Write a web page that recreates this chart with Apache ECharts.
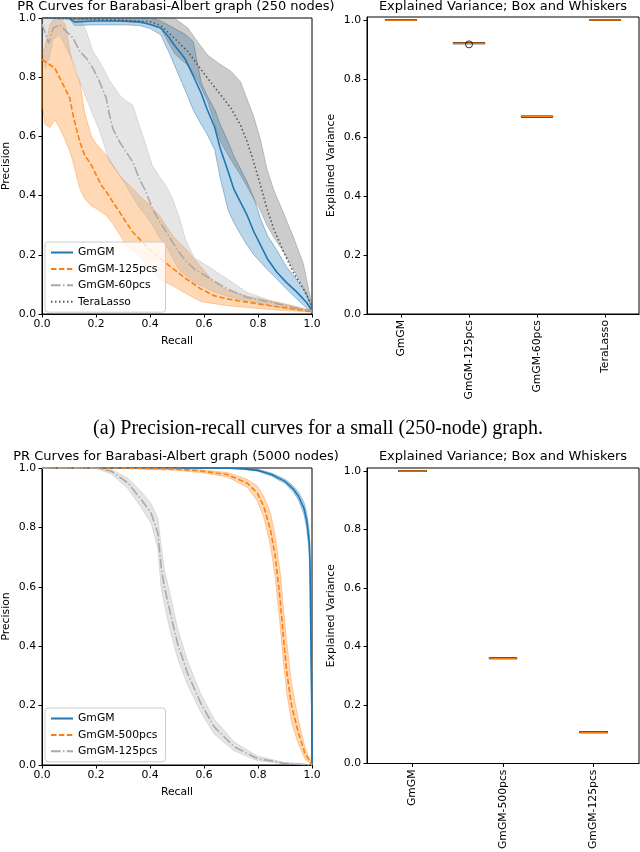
<!DOCTYPE html>
<html>
<head>
<meta charset="utf-8">
<script src="https://cdn.jsdelivr.net/npm/echarts@6/dist/echarts.min.js"></script>
<style>
html,body{margin:0;padding:0;background:#fff}
#chart{width:640px;height:852px}
</style>
</head>
<body>
<div id="chart"></div>
<script>
// ---- top left: PR curves, 250 nodes ----
var smGmgmRecall = [0, 0.10, 0.12, 0.2, 0.3, 0.36, 0.40, 0.44, 0.47, 0.49, 0.53, 0.56, 0.59, 0.61, 0.64, 0.66, 0.69, 0.71, 0.735, 0.76, 0.785, 0.81, 0.835, 0.87, 0.905, 0.945, 0.98, 1.0];
var smGmgmPrec   = [1.0, 1.0, 0.987, 0.99, 0.99, 0.987, 0.978, 0.966, 0.935, 0.909, 0.862, 0.805, 0.745, 0.695, 0.63, 0.56, 0.48, 0.423, 0.378, 0.333, 0.277, 0.232, 0.186, 0.141, 0.107, 0.073, 0.039, 0.011];
var smGmgmHigh   = [1, 1, 1, 1, 1, 1, 1, 0.99, 0.975, 0.965, 0.945, 0.92, 0.78, 0.74, 0.69, 0.64, 0.58, 0.535, 0.49, 0.445, 0.39, 0.32, 0.265, 0.215, 0.16, 0.115, 0.07, 0.017];
var smGmgmLow    = [1, 1, 0.975, 0.977, 0.977, 0.975, 0.965, 0.943, 0.885, 0.842, 0.757, 0.69, 0.64, 0.61, 0.555, 0.46, 0.35, 0.31, 0.27, 0.232, 0.2, 0.175, 0.15, 0.118, 0.085, 0.05, 0.02, 0.006];

var sm125Recall = [0, 0.011, 0.029, 0.048, 0.066, 0.085, 0.103, 0.115, 0.127, 0.14, 0.158, 0.183, 0.201, 0.22, 0.238, 0.262, 0.287, 0.311, 0.336, 0.36, 0.397, 0.434, 0.483, 0.532, 0.588, 0.637, 0.686, 0.76, 0.845, 0.931, 1.0];
var sm125Prec   = [0.86, 0.853, 0.842, 0.83, 0.797, 0.763, 0.729, 0.672, 0.627, 0.582, 0.537, 0.503, 0.469, 0.435, 0.413, 0.379, 0.345, 0.311, 0.277, 0.254, 0.22, 0.19, 0.155, 0.12, 0.085, 0.062, 0.051, 0.04, 0.028, 0.017, 0.008];
var sm125High   = [0.88, 0.9, 0.977, 1.0, 1.0, 0.98, 0.89, 0.842, 0.81, 0.785, 0.68, 0.6, 0.575, 0.555, 0.537, 0.505, 0.469, 0.445, 0.424, 0.4, 0.37, 0.333, 0.265, 0.22, 0.16, 0.107, 0.08, 0.06, 0.045, 0.028, 0.011];
var sm125Low    = [0.71, 0.64, 0.63, 0.655, 0.627, 0.59, 0.55, 0.514, 0.47, 0.424, 0.39, 0.365, 0.356, 0.345, 0.333, 0.305, 0.27, 0.232, 0.215, 0.198, 0.152, 0.118, 0.096, 0.07, 0.042, 0.035, 0.028, 0.022, 0.015, 0.01, 0.006];

var sm60Recall = [0, 0.012, 0.025, 0.042, 0.066, 0.09, 0.115, 0.14, 0.164, 0.189, 0.213, 0.238, 0.25, 0.262, 0.287, 0.311, 0.336, 0.36, 0.385, 0.409, 0.434, 0.458, 0.483, 0.507, 0.532, 0.564, 0.625, 0.686, 0.76, 0.845, 0.931, 1.0];
var sm60Prec   = [0.98, 0.949, 0.915, 0.966, 0.977, 0.955, 0.932, 0.887, 0.864, 0.83, 0.785, 0.729, 0.672, 0.627, 0.582, 0.548, 0.514, 0.458, 0.413, 0.356, 0.315, 0.28, 0.243, 0.209, 0.18, 0.152, 0.118, 0.085, 0.056, 0.04, 0.022, 0.011];
var sm60High   = [1, 1, 1, 1, 1, 1, 1, 1, 0.955, 0.887, 0.853, 0.81, 0.79, 0.774, 0.74, 0.72, 0.706, 0.638, 0.57, 0.5, 0.465, 0.435, 0.39, 0.33, 0.25, 0.19, 0.155, 0.118, 0.073, 0.045, 0.025, 0.011];
var sm60Low    = [0.9, 0.83, 0.86, 0.93, 0.943, 0.898, 0.853, 0.785, 0.729, 0.672, 0.62, 0.55, 0.514, 0.5, 0.47, 0.435, 0.395, 0.36, 0.333, 0.3, 0.26, 0.235, 0.19, 0.15, 0.13, 0.107, 0.08, 0.06, 0.045, 0.028, 0.015, 0.008];

var smTeraRecall = [0, 0.25, 0.35, 0.40, 0.44, 0.49, 0.54, 0.576, 0.613, 0.662, 0.70, 0.735, 0.76, 0.784, 0.809, 0.833, 0.858, 0.895, 0.931, 0.968, 1.0];
var smTeraPrec   = [1.0, 0.995, 0.99, 0.988, 0.975, 0.932, 0.887, 0.842, 0.797, 0.74, 0.695, 0.638, 0.582, 0.514, 0.435, 0.356, 0.288, 0.209, 0.141, 0.085, 0.028];
var smTeraHigh   = [1, 1, 1, 1, 1, 1, 0.966, 0.92, 0.875, 0.842, 0.82, 0.785, 0.725, 0.667, 0.59, 0.49, 0.42, 0.34, 0.26, 0.17, 0.028];
var smTeraLow    = [1, 0.99, 0.985, 0.98, 0.965, 0.88, 0.84, 0.79, 0.72, 0.58, 0.52, 0.47, 0.43, 0.39, 0.35, 0.30, 0.26, 0.21, 0.15, 0.09, 0.017];

// ---- bottom left: PR curves, 5000 nodes ----
var lgGmgmRecall = [0, 0.6, 0.7, 0.75, 0.8, 0.85, 0.9, 0.93, 0.95, 0.97, 0.98, 0.99, 0.993, 0.996, 0.999, 1.0];
var lgGmgmPrec   = [1, 1, 0.999, 0.997, 0.992, 0.978, 0.955, 0.93, 0.905, 0.865, 0.825, 0.75, 0.65, 0.42, 0.2, 0.0];
var lgGmgmHigh   = [1, 1, 1, 0.999, 0.995, 0.983, 0.962, 0.94, 0.918, 0.885, 0.85, 0.79, 0.71, 0.5, 0.25, 0.0];
var lgGmgmLow    = [1, 1, 0.998, 0.995, 0.989, 0.973, 0.948, 0.92, 0.892, 0.845, 0.8, 0.71, 0.59, 0.34, 0.15, 0.0];

var lg500Recall = [0, 0.3, 0.4, 0.5, 0.588, 0.686, 0.76, 0.797, 0.821, 0.846, 0.864, 0.882, 0.895, 0.907, 0.925, 0.95, 0.974, 1.0];
var lg500Prec   = [1, 1, 0.998, 0.996, 0.99, 0.978, 0.949, 0.916, 0.871, 0.792, 0.702, 0.556, 0.421, 0.309, 0.197, 0.107, 0.039, 0.0];
var lg500High   = [1, 1, 1, 0.999, 0.994, 0.985, 0.962, 0.94, 0.905, 0.85, 0.77, 0.65, 0.52, 0.41, 0.27, 0.15, 0.06, 0.002];
var lg500Low    = [1, 0.999, 0.995, 0.992, 0.985, 0.97, 0.935, 0.89, 0.835, 0.74, 0.63, 0.47, 0.34, 0.24, 0.14, 0.07, 0.02, 0.0];

var lg125Recall = [0, 0.2, 0.257, 0.319, 0.368, 0.404, 0.429, 0.441, 0.453, 0.478, 0.502, 0.539, 0.588, 0.637, 0.711, 0.797, 0.895, 1.0];
var lg125Prec   = [1, 1, 0.989, 0.949, 0.893, 0.848, 0.781, 0.669, 0.601, 0.5, 0.41, 0.309, 0.208, 0.129, 0.062, 0.022, 0.006, 0];
var lg125High   = [1, 1, 0.995, 0.965, 0.92, 0.88, 0.83, 0.74, 0.66, 0.56, 0.46, 0.35, 0.24, 0.155, 0.078, 0.03, 0.009, 0.001];
var lg125Low    = [1, 0.999, 0.98, 0.93, 0.865, 0.815, 0.73, 0.6, 0.54, 0.44, 0.36, 0.27, 0.178, 0.105, 0.048, 0.015, 0.004, 0];

// ---- box plots: [min, q1, median, q3, max] ----
var smBoxCats = ['GmGM', 'GmGM-125pcs', 'GmGM-60pcs', 'TeraLasso'];
var smBoxes = [
  [0.9985, 0.999, 0.9993, 0.9996, 1.0],
  [0.919, 0.920, 0.921, 0.922, 0.923],
  [0.669, 0.670, 0.671, 0.672, 0.673],
  [0.999, 0.9995, 0.9998, 1.0, 1.0]
];
var smOutliers = [['GmGM-125pcs', 0.917]];

var lgBoxCats = ['GmGM', 'GmGM-500pcs', 'GmGM-125pcs'];
var lgBoxes = [
  [0.998, 0.999, 0.9995, 1.0, 1.0],
  [0.358, 0.359, 0.360, 0.361, 0.362],
  [0.105, 0.106, 0.107, 0.108, 0.109]
];

var prTicks = [0, 0.2, 0.4, 0.6, 0.8, 1.0];
var evTicks = [0, 0.2, 0.4, 0.6, 0.8, 1.0];

var FONT = 'DejaVu Sans';
var BLUE = '#1f77b4', ORANGE = '#ff7f0e', LGRAY = '#a9a9a9', DGRAY = '#555555';

function zip(xs, ys) {
  var out = [];
  for (var i = 0; i < xs.length; i++) out.push([xs[i], ys[i]]);
  return out;
}

function lineSeries(name, xs, ys, color, dash, gi) {
  return {
    name: name, type: 'line', xAxisIndex: gi, yAxisIndex: gi,
    data: zip(xs, ys), symbol: 'none', showSymbol: false, z: 3,
    lineStyle: {color: color, width: 1.6, type: dash},
    itemStyle: {color: color}
  };
}

// shaded band: polygon along the upper edge, back along the lower edge
function bandSeries(xs, lo, hi, fill, edge, gi) {
  return {
    type: 'custom', xAxisIndex: gi, yAxisIndex: gi, z: 1, silent: true,
    data: [[0, 0]],
    renderItem: function (params, api) {
      var pts = [];
      for (var i = 0; i < xs.length; i++) pts.push(api.coord([xs[i], hi[i]]));
      for (var j = xs.length - 1; j >= 0; j--) pts.push(api.coord([xs[j], lo[j]]));
      return {type: 'polygon', shape: {points: pts}, style: {fill: fill, stroke: edge, lineWidth: 1}};
    }
  };
}

function medianSeries(cats, boxes, w, gi) {
  var d = [];
  for (var i = 0; i < boxes.length; i++) d.push([i, boxes[i][2]]);
  return {
    type: 'custom', xAxisIndex: gi, yAxisIndex: gi, z: 4, silent: true,
    data: d,
    renderItem: function (params, api) {
      var c = api.coord([api.value(0), api.value(1)]);
      return {type: 'line', shape: {x1: c[0] - w / 2, y1: c[1], x2: c[0] + w / 2, y2: c[1]},
        style: {stroke: ORANGE, lineWidth: 1.5}};
    }
  };
}

var txt = {color: '#000', fontFamily: FONT, fontSize: 10.8};

function prX(gi) {
  return {
    type: 'value', gridIndex: gi, min: 0, max: 1,
    name: 'Recall', nameLocation: 'middle', nameGap: 22, nameTextStyle: txt,
    axisLine: {show: true, lineStyle: {color: '#000', width: 1}},
    axisTick: {show: true, length: 3.5, lineStyle: {color: '#000'}, customValues: prTicks},
    axisLabel: Object.assign({margin: 5, customValues: prTicks, formatter: function (v) { return v.toFixed(1); }}, txt),
    splitLine: {show: false}
  };
}
function prY(gi) {
  return {
    type: 'value', gridIndex: gi, min: 0, max: 1,
    name: 'Precision', nameLocation: 'middle', nameGap: 30, nameTextStyle: txt,
    axisLine: {show: true, lineStyle: {color: '#000', width: 1}},
    axisTick: {show: true, length: 3.5, lineStyle: {color: '#000'}, customValues: prTicks},
    axisLabel: Object.assign({margin: 6, customValues: prTicks, formatter: function (v) { return v.toFixed(1); }}, txt),
    splitLine: {show: false}
  };
}
function evX(gi, cats) {
  return {
    type: 'category', gridIndex: gi, data: cats, boundaryGap: true,
    axisLine: {show: true, lineStyle: {color: '#000', width: 1}},
    axisTick: {show: true, alignWithLabel: true, length: 3.5, lineStyle: {color: '#000'}},
    axisLabel: Object.assign({rotate: 90, interval: 0, margin: 6}, txt),
    splitLine: {show: false}
  };
}
function evY(gi) {
  return {
    type: 'value', gridIndex: gi, min: 0, max: 1.01,
    name: 'Explained Variance', nameLocation: 'middle', nameGap: 30, nameTextStyle: txt,
    axisLine: {show: true, lineStyle: {color: '#000', width: 1}},
    axisTick: {show: true, length: 3.5, lineStyle: {color: '#000'}, customValues: evTicks},
    axisLabel: Object.assign({margin: 6, customValues: evTicks, formatter: function (v) { return v.toFixed(1); }}, txt),
    splitLine: {show: false}
  };
}

function titleAt(text, x, y) {
  return {text: text, left: x, top: y, textAlign: 'center', padding: 0,
    textStyle: {color: '#000', fontFamily: FONT, fontSize: 13, fontWeight: 'normal'}};
}

function legendAt(names, top) {
  return {
    data: names, orient: 'vertical', left: 45, top: top,
    itemWidth: 22, itemHeight: 10, itemGap: 5.4,
    padding: [5, 8, 5, 5],
    backgroundColor: 'rgba(255,255,255,0.8)', borderColor: '#cccccc', borderWidth: 1, borderRadius: 3,
    selectedMode: false,
    itemStyle: {opacity: 0},
    textStyle: txt,
    formatter: function (n) { return n.replace(/^b:/, ''); }
  };
}

var gridBox = {show: true, borderColor: '#000', borderWidth: 1, backgroundColor: 'transparent'};

var option = {
  animation: false,
  backgroundColor: '#fff',
  title: [
    titleAt('PR Curves for Barabasi-Albert graph (250 nodes)', 176, 0),
    titleAt('Explained Variance; Box and Whiskers', 503, 0),
    titleAt('PR Curves for Barabasi-Albert graph (5000 nodes)', 176, 450),
    titleAt('Explained Variance; Box and Whiskers', 503, 450),
    {text: '(a) Precision-recall curves for a small (250-node) graph.', left: 318, top: 419, textAlign: 'center', padding: 0,
      textStyle: {color: '#000', fontFamily: 'Liberation Serif', fontSize: 20, fontWeight: 'normal'}}
  ],
  legend: [
    legendAt(['GmGM', 'GmGM-125pcs', 'GmGM-60pcs', 'TeraLasso'], 242),
    legendAt(['b:GmGM', 'b:GmGM-500pcs', 'b:GmGM-125pcs'], 708)
  ],
  grid: [
    Object.assign({left: 40, top: 18, width: 272, height: 296}, gridBox),
    Object.assign({left: 367, top: 17, width: 272, height: 297}, gridBox),
    Object.assign({left: 40, top: 468, width: 272, height: 297}, gridBox),
    Object.assign({left: 367, top: 468, width: 272, height: 297}, gridBox)
  ],
  xAxis: [prX(0), evX(1, smBoxCats), prX(2), evX(3, lgBoxCats)],
  yAxis: [prY(0), evY(1), prY(2), evY(3)],
  series: [
    bandSeries(smGmgmRecall, smGmgmLow, smGmgmHigh, 'rgba(31,119,180,0.3)', 'rgba(31,119,180,0.45)', 0),
    bandSeries(sm125Recall, sm125Low, sm125High, 'rgba(255,127,14,0.3)', 'rgba(255,127,14,0.35)', 0),
    bandSeries(sm60Recall, sm60Low, sm60High, 'rgba(169,169,169,0.3)', 'rgba(169,169,169,0.35)', 0),
    bandSeries(smTeraRecall, smTeraLow, smTeraHigh, 'rgba(85,85,85,0.3)', 'rgba(85,85,85,0.3)', 0),
    lineSeries('GmGM', smGmgmRecall, smGmgmPrec, BLUE, 'solid', 0),
    lineSeries('GmGM-125pcs', sm125Recall, sm125Prec, ORANGE, [5.5, 2.4], 0),
    lineSeries('GmGM-60pcs', sm60Recall, sm60Prec, LGRAY, [9.6, 2.4, 1.5, 2.4], 0),
    lineSeries('TeraLasso', smTeraRecall, smTeraPrec, DGRAY, [1.5, 2.5], 0),

    bandSeries(lgGmgmRecall, lgGmgmLow, lgGmgmHigh, 'rgba(31,119,180,0.3)', 'rgba(31,119,180,0.4)', 2),
    bandSeries(lg500Recall, lg500Low, lg500High, 'rgba(255,127,14,0.3)', 'rgba(255,127,14,0.35)', 2),
    bandSeries(lg125Recall, lg125Low, lg125High, 'rgba(169,169,169,0.3)', 'rgba(169,169,169,0.35)', 2),
    lineSeries('b:GmGM', lgGmgmRecall, lgGmgmPrec, BLUE, 'solid', 2),
    lineSeries('b:GmGM-500pcs', lg500Recall, lg500Prec, ORANGE, [5.5, 2.4], 2),
    lineSeries('b:GmGM-125pcs', lg125Recall, lg125Prec, LGRAY, [9.6, 2.4, 1.5, 2.4], 2),

    {type: 'boxplot', xAxisIndex: 1, yAxisIndex: 1, data: smBoxes, boxWidth: [32, 32],
      itemStyle: {color: 'transparent', borderColor: '#000', borderWidth: 1}},
    medianSeries(smBoxCats, smBoxes, 32, 1),
    {type: 'scatter', xAxisIndex: 1, yAxisIndex: 1, data: smOutliers, symbol: 'circle', symbolSize: 7, z: 5,
      itemStyle: {color: 'rgba(0,0,0,0)', borderColor: '#000', borderWidth: 1}},
    {type: 'boxplot', xAxisIndex: 3, yAxisIndex: 3, data: lgBoxes, boxWidth: [28, 28],
      itemStyle: {color: 'transparent', borderColor: '#000', borderWidth: 1}},
    medianSeries(lgBoxCats, lgBoxes, 28, 3)
  ]
};

var chart = echarts.init(document.getElementById('chart'), null, {renderer: 'canvas'});
chart.setOption(option);
</script>
</body>
</html>
